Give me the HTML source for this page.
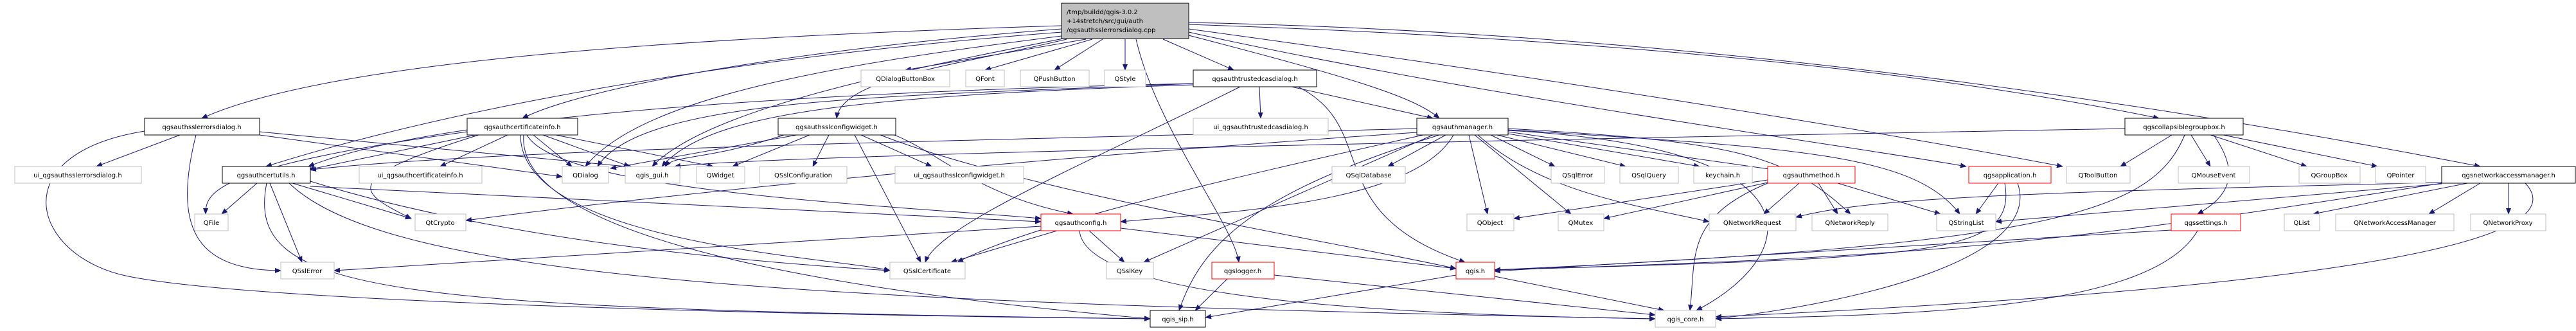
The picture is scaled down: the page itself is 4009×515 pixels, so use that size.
<!DOCTYPE html>
<html><head><meta charset="utf-8"><style>
html,body{margin:0;padding:0;background:#fff;}
svg{display:block;}
text{font-family:"DejaVu Sans","Liberation Sans",sans-serif;font-size:10px;fill:#000;}
.e{fill:none;stroke:#191970;stroke-width:1;}
.g{fill:#fff;stroke:#bfbfbf;}
.b{fill:#fff;stroke:#000;}
.r{fill:#fff;stroke:#ff0000;}
</style></head><body>
<svg width="4009" height="515" viewBox="0 0 4009 515" xmlns="http://www.w3.org/2000/svg">
<defs><marker id="a" markerWidth="10" markerHeight="8" refX="9" refY="4" orient="auto" markerUnits="userSpaceOnUse"><path d="M0,0 L10,4 L0,8 z" fill="#191970"/></marker></defs>
<g class="e" marker-end="url(#a)">
<!-- root -->
<path d="M1652,40 C1000,60 500,100 314,184"/>
<path d="M1652,45 C1200,80 900,140 813,184"/>
<path d="M1660,61 C1500,100 1310,120 1302,184"/>
<path d="M1652,50 C1000,100 600,200 414,259"/>
<path d="M1660,55 C1300,100 1000,150 911,259"/>
<path d="M1665,58 C1400,110 1100,170 1015,259"/>
<path d="M1690,61 L1409,109"/>
<path d="M1700,61 L1533,109"/>
<path d="M1716,61 L1641,109"/>
<path d="M1751,61 L1751,109"/>
<path d="M1810,61 L1920,109"/>
<path d="M1768,61 C1800,200 1920,350 1928,408"/>
<path d="M1850,55 C2100,120 2200,150 2240,184"/>
<path d="M1850,50 C2300,150 2900,230 3060,259"/>
<path d="M1850,45 C2400,120 2900,200 3210,259"/>
<path d="M1850,38 C2500,60 3000,110 3360,184"/>
<path d="M1850,35 C2600,50 3300,150 3860,259"/>
<!-- TCD -->
<path d="M2010,135 L2230,184"/>
<path d="M1960,135 L1962,184"/>
<path d="M1930,135 C1700,250 1460,350 1440,408"/>
<path d="M2020,135 C2150,200 2050,330 2280,408"/>
<path d="M1857,132 C1300,150 1100,180 1030,259"/>
<path d="M1857,130 C1400,150 1000,150 930,259"/>
<path d="M1857,130 C1400,140 700,170 480,259"/>
<!-- SED -->
<path d="M280,210 L150,259"/>
<path d="M404,210 L875,275"/>
<path d="M404,205 L985,260"/>
<path d="M305,210 C270,350 300,420 437,421"/>
<path d="M225,204 C0,240 50,400 200,430 C400,470 1200,490 1790,496"/>
<!-- CI -->
<path d="M740,210 L480,264"/>
<path d="M790,210 L685,259"/>
<path d="M830,210 L890,259"/>
<path d="M845,210 L980,259"/>
<path d="M865,210 L1110,259"/>
<path d="M727,205 C330,260 320,300 320,333"/>
<path d="M745,210 C520,280 560,300 640,340"/>
<path d="M810,210 C810,380 1300,400 1385,421"/>
<path d="M820,210 C870,300 1400,320 1620,340"/>
<path d="M815,210 C800,400 1500,470 1790,496"/>
<!-- SCW -->
<path d="M1220,210 C1100,250 1050,240 1035,259"/>
<path d="M1240,210 L950,262"/>
<path d="M1260,210 L1140,259"/>
<path d="M1290,210 L1265,259"/>
<path d="M1340,210 L1450,259"/>
<path d="M1330,210 L1433,408"/>
<path d="M1360,200 C1450,220 1500,300 1670,333"/>
<path d="M1370,210 C1600,300 2100,380 2266,418"/>
<!-- CU -->
<path d="M400,285 L345,333"/>
<path d="M455,285 L640,340"/>
<path d="M420,285 L470,408"/>
<path d="M483,282 C800,380 1200,410 1385,421"/>
<path d="M483,290 L1620,345"/>
<path d="M450,285 C600,430 1200,470 2576,496"/>
<path d="M415,285 C380,460 600,480 1790,496"/>
<!-- authconfig -->
<path d="M1645,359 L1480,408"/>
<path d="M1695,359 L1750,408"/>
<path d="M1744,355 L2266,418"/>
<path d="M1680,359 C1690,470 2200,490 2576,496"/>
<path d="M1620,352 L520,421"/>
<!-- AM -->
<path d="M2250,210 L2160,259"/>
<path d="M2320,210 L2420,259"/>
<path d="M2330,210 L2530,259"/>
<path d="M2347,208 L2645,259"/>
<path d="M2347,205 L2760,264"/>
<path d="M2286,210 L2315,333"/>
<path d="M2295,210 L2445,333"/>
<path d="M2300,210 C2400,300 2550,320 2660,345"/>
<path d="M2347,200 C2700,220 2780,240 2880,333"/>
<path d="M2347,202 C2800,230 2980,240 3050,333"/>
<path d="M2262,210 C2200,320 1900,330 1744,345"/>
<path d="M2230,210 L1780,408"/>
<path d="M2215,210 C1900,280 1600,350 1490,408"/>
<path d="M2240,210 C1950,300 1870,380 1835,483"/>
<path d="M2347,203 C2850,230 2800,400 2640,483"/>
<path d="M2205,206 C1400,260 900,320 725,343"/>
<path d="M2205,200 C1500,220 800,230 483,264"/>
<!-- qgis.h, logger -->
<path d="M2266,428 L1876,494"/>
<path d="M2326,430 L2590,483"/>
<path d="M1910,434 L1860,483"/>
<path d="M1983,428 L2576,490"/>
<!-- AMeth -->
<path d="M2751,280 L2356,340"/>
<path d="M2751,284 L2496,340"/>
<path d="M2800,285 L2745,333"/>
<path d="M2830,285 L2860,333"/>
<path d="M2860,285 L3020,333"/>
<path d="M2751,285 C2620,340 2640,400 2630,483"/>
<!-- QApp -->
<path d="M3110,285 L3075,333"/>
<path d="M3120,285 C3140,400 3000,400 2326,420"/>
<path d="M3140,285 C3180,400 2900,470 2670,496"/>
<!-- CGB -->
<path d="M3380,210 L3300,259"/>
<path d="M3410,210 L3440,259"/>
<path d="M3440,210 L3590,259"/>
<path d="M3460,210 L3700,259"/>
<path d="M3445,210 C3480,260 3480,300 3420,333"/>
<path d="M3307,200 C2500,215 1200,240 1050,259"/>
<path d="M3400,210 C3350,330 3200,380 2326,420"/>
<!-- NAM -->
<path d="M3840,285 L3600,333"/>
<path d="M3860,285 L3780,333"/>
<path d="M3904,285 L3904,333"/>
<path d="M3800,284 C3100,300 2900,310 2795,338"/>
<path d="M3800,286 L3106,345"/>
<path d="M3800,285 C3200,380 3000,400 2326,420"/>
<path d="M3930,285 C4020,380 3600,450 2670,493"/>
<!-- settings -->
<path d="M3379,358 L2326,422"/>
<path d="M3420,359 C3350,480 3000,490 2670,496"/>
</g>
<!-- nodes -->
<rect x="1652" y="5" width="198" height="55" fill="#bfbfbf" stroke="#000"/>
<text x="1660" y="22">/tmp/buildd/qgis-3.0.2</text>
<text x="1660" y="36">+14stretch/src/gui/auth</text>
<text x="1660" y="50">/qgsauthsslerrorsdialog.cpp</text>
<g>
<rect class="g" x="1340" y="109" width="138" height="26"/><text x="1409" y="126" text-anchor="middle">QDialogButtonBox</text>
<rect class="g" x="1503" y="109" width="60" height="26"/><text x="1533" y="126" text-anchor="middle">QFont</text>
<rect class="g" x="1588" y="109" width="107" height="26"/><text x="1641" y="126" text-anchor="middle">QPushButton</text>
<rect class="g" x="1719" y="109" width="64" height="26"/><text x="1751" y="126" text-anchor="middle">QStyle</text>
<rect class="b" x="1857" y="109" width="192" height="26"/><text x="1953" y="126" text-anchor="middle">qgsauthtrustedcasdialog.h</text>

<rect class="b" x="225" y="184" width="179" height="26"/><text x="314" y="201" text-anchor="middle">qgsauthsslerrorsdialog.h</text>
<rect class="b" x="727" y="184" width="172" height="26"/><text x="813" y="201" text-anchor="middle">qgsauthcertificateinfo.h</text>
<rect class="b" x="1211" y="184" width="183" height="26"/><text x="1302" y="201" text-anchor="middle">qgsauthsslconfigwidget.h</text>
<rect class="g" x="1857" y="184" width="210" height="26"/><text x="1962" y="201" text-anchor="middle">ui_qgsauthtrustedcasdialog.h</text>
<rect class="b" x="2205" y="184" width="142" height="26"/><text x="2276" y="201" text-anchor="middle">qgsauthmanager.h</text>
<rect class="b" x="3307" y="184" width="184" height="26"/><text x="3399" y="201" text-anchor="middle">qgscollapsiblegroupbox.h</text>

<rect class="g" x="23" y="259" width="197" height="26"/><text x="121" y="276" text-anchor="middle">ui_qgsauthsslerrorsdialog.h</text>
<rect class="b" x="346" y="259" width="137" height="26"/><text x="414" y="276" text-anchor="middle">qgsauthcertutils.h</text>
<rect class="g" x="559" y="259" width="191" height="26"/><text x="654" y="276" text-anchor="middle">ui_qgsauthcertificateinfo.h</text>
<rect class="g" x="875" y="259" width="72" height="26"/><text x="911" y="276" text-anchor="middle">QDialog</text>
<rect class="g" x="973" y="259" width="85" height="26"/><text x="1015" y="276" text-anchor="middle">qgis_gui.h</text>
<rect class="g" x="1084" y="259" width="75" height="26"/><text x="1121" y="276" text-anchor="middle">QWidget</text>
<rect class="g" x="1182" y="259" width="136" height="26"/><text x="1250" y="276" text-anchor="middle">QSslConfiguration</text>
<rect class="g" x="1393" y="259" width="200" height="26"/><text x="1493" y="276" text-anchor="middle">ui_qgsauthsslconfigwidget.h</text>
<rect class="g" x="2073" y="259" width="114" height="26"/><text x="2130" y="276" text-anchor="middle">QSqlDatabase</text>
<rect class="g" x="2414" y="259" width="83" height="26"/><text x="2455" y="276" text-anchor="middle">QSqlError</text>
<rect class="g" x="2521" y="259" width="91" height="26"/><text x="2566" y="276" text-anchor="middle">QSqlQuery</text>
<rect class="g" x="2636" y="259" width="91" height="26"/><text x="2681" y="276" text-anchor="middle">keychain.h</text>
<rect class="r" x="2751" y="259" width="136" height="26"/><text x="2819" y="276" text-anchor="middle">qgsauthmethod.h</text>
<rect class="r" x="3064" y="259" width="128" height="26"/><text x="3128" y="276" text-anchor="middle">qgsapplication.h</text>
<rect class="g" x="3216" y="259" width="99" height="26"/><text x="3265" y="276" text-anchor="middle">QToolButton</text>
<rect class="g" x="3390" y="259" width="111" height="26"/><text x="3445" y="276" text-anchor="middle">QMouseEvent</text>
<rect class="g" x="3578" y="259" width="95" height="26"/><text x="3625" y="276" text-anchor="middle">QGroupBox</text>
<rect class="g" x="3697" y="259" width="78" height="26"/><text x="3736" y="276" text-anchor="middle">QPointer</text>
<rect class="b" x="3800" y="259" width="208" height="26"/><text x="3904" y="276" text-anchor="middle">qgsnetworkaccessmanager.h</text>

<rect class="g" x="303" y="333" width="52" height="26"/><text x="329" y="350" text-anchor="middle">QFile</text>
<rect class="g" x="646" y="333" width="79" height="26"/><text x="685" y="350" text-anchor="middle">QtCrypto</text>
<rect class="r" x="1620" y="333" width="124" height="26"/><text x="1682" y="350" text-anchor="middle">qgsauthconfig.h</text>
<rect class="g" x="2283" y="333" width="73" height="26"/><text x="2319" y="350" text-anchor="middle">QObject</text>
<rect class="g" x="2425" y="333" width="71" height="26"/><text x="2460" y="350" text-anchor="middle">QMutex</text>
<rect class="g" x="2660" y="333" width="135" height="26"/><text x="2727" y="350" text-anchor="middle">QNetworkRequest</text>
<rect class="g" x="2820" y="333" width="118" height="26"/><text x="2879" y="350" text-anchor="middle">QNetworkReply</text>
<rect class="g" x="3014" y="333" width="92" height="26"/><text x="3060" y="350" text-anchor="middle">QStringList</text>
<rect class="r" x="3379" y="333" width="108" height="26"/><text x="3433" y="350" text-anchor="middle">qgssettings.h</text>
<rect class="g" x="3555" y="333" width="55" height="26"/><text x="3582" y="350" text-anchor="middle">QList</text>
<rect class="g" x="3635" y="333" width="184" height="26"/><text x="3727" y="350" text-anchor="middle">QNetworkAccessManager</text>
<rect class="g" x="3845" y="333" width="117" height="26"/><text x="3903" y="350" text-anchor="middle">QNetworkProxy</text>

<rect class="g" x="437" y="408" width="83" height="26"/><text x="478" y="425" text-anchor="middle">QSslError</text>
<rect class="g" x="1385" y="408" width="117" height="26"/><text x="1443" y="425" text-anchor="middle">QSslCertificate</text>
<rect class="g" x="1722" y="408" width="73" height="26"/><text x="1758" y="425" text-anchor="middle">QSslKey</text>
<rect class="r" x="1886" y="408" width="97" height="26"/><text x="1934" y="425" text-anchor="middle">qgslogger.h</text>
<rect class="r" x="2266" y="408" width="60" height="26"/><text x="2296" y="425" text-anchor="middle">qgis.h</text>

<rect class="b" x="1790" y="483" width="86" height="26"/><text x="1833" y="500" text-anchor="middle">qgis_sip.h</text>
<rect class="g" x="2576" y="483" width="94" height="26"/><text x="2623" y="500" text-anchor="middle">qgis_core.h</text>
</g>
</svg>
</body></html>
